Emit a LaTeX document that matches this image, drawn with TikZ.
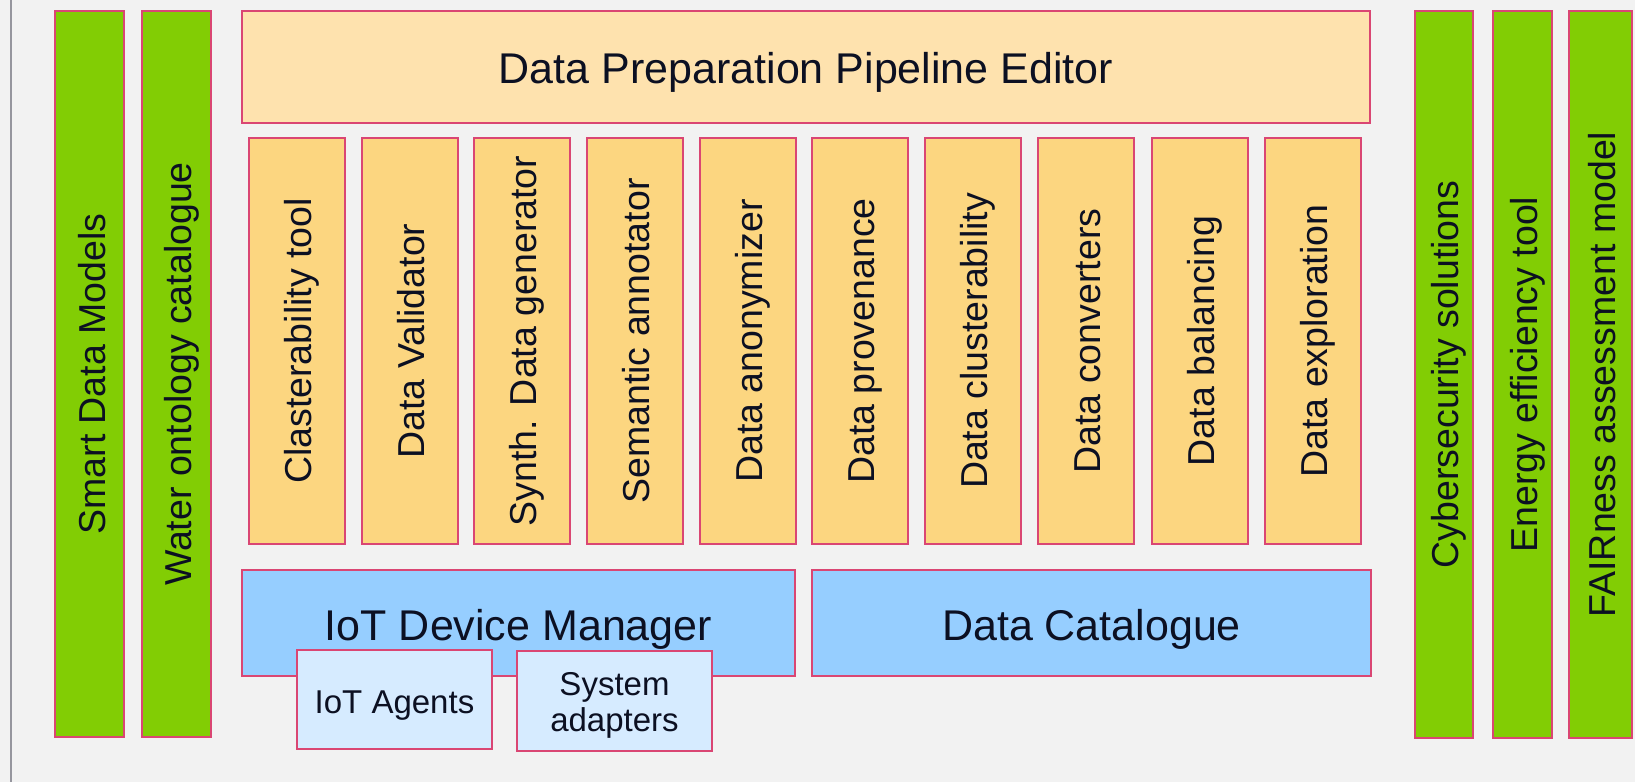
\documentclass[tikz,border=0pt]{standalone}
\usepackage{fontspec}
\setmainfont{Liberation Sans}
\definecolor{bgc}{RGB}{242,242,242}
\definecolor{edgec}{RGB}{218,70,115}
\definecolor{greenc}{RGB}{130,205,4}
\definecolor{editorc}{RGB}{254,226,174}
\definecolor{orangec}{RGB}{252,214,128}
\definecolor{bluec}{RGB}{150,206,255}
\definecolor{lbluec}{RGB}{214,235,255}
\definecolor{textc}{RGB}{12,16,34}
\definecolor{linec}{RGB}{150,150,158}
\newcommand{\vlab}[2]{\rotatebox{90}{\raisebox{-#1pt}[0pt][0pt]{#2}}}
\newcommand{\hlab}[2]{\raisebox{-#1pt}[0pt][0pt]{#2}}
\tikzset{
  box/.style={draw=edgec, line width=1.3pt, inner sep=0pt, text=textc, align=center},
  gbox/.style={box, fill=greenc, font=\fontsize{37.5}{40}\selectfont},
  obox/.style={box, fill=orangec, minimum width=96, minimum height=406, font=\fontsize{37.5}{40}\selectfont},
  ebox/.style={box, fill=editorc, font=\fontsize{43}{47}\selectfont},
  bbox/.style={box, fill=bluec, font=\fontsize{43}{47}\selectfont},
  lbox/.style={box, fill=lbluec, font=\fontsize{33}{36.7}\selectfont},
}
\begin{document}
\begin{tikzpicture}[x=1pt,y=-1pt]
\useasboundingbox (0,0) rectangle (1635,782);
\fill[bgc] (0,0) rectangle (1635,782);
\coordinate (lt) at (11,0);
\coordinate (lb) at (11,782);
\draw[linec, line width=2pt] (lt) -- (lb);

% left green columns
\node[gbox, minimum width=69, minimum height=726] (sdm) at (89.5,374) {\vlab{15.5}{Smart Data Models}};
\node[gbox, minimum width=69, minimum height=726] (woc) at (176.5,374) {\vlab{15}{Water ontology catalogue}};

% right green columns
\node[gbox, minimum width=58, minimum height=727] (cyb) at (1444,374.5) {\vlab{14.5}{Cybersecurity solutions}};
\node[gbox, minimum width=59, minimum height=727] (ene) at (1522.5,374.5) {\vlab{14.5}{Energy efficiency tool}};
\node[gbox, minimum width=63, minimum height=727] (fair) at (1600.5,374.5) {\vlab{15}{FAIRness assessment model}};

% editor
\node[ebox, minimum width=1128, minimum height=112] (editor) at (806,67) {\hlab{16.3}{Data Preparation Pipeline Editor}};

% tools
\foreach \l/\t/\n in {249/Clasterability tool/o1, 362/Data Validator/o2, 474/Synth. Data generator/o3,
  587/Semantic annotator/o4, 700/Data anonymizer/o5, 812/Data provenance/o6,
  925/Data clusterability/o7, 1038/Data converters/o8, 1152/Data balancing/o9, 1265/Data exploration/o10}
  \node[obox] (\n) at (\l+48,341) {\vlab{14.5}{\t}};

% bottom blue boxes
\node[bbox, minimum width=553, minimum height=106] (iotdm) at (518.5,623) {\hlab{17.5}{IoT Device Manager}};
\node[bbox, minimum width=559, minimum height=106] (dcat) at (1091.5,623) {\hlab{17.2}{Data Catalogue}};

% small boxes
\node[lbox, minimum width=195, minimum height=99] (agents) at (394.5,699.5) {\hlab{13.5}{IoT Agents}};
\node[lbox, minimum width=195, minimum height=100] (adapt) at (614.5,701) {\hlab{30.7}{\begin{tabular}[b]{@{}c@{}}System\\adapters\end{tabular}}};
\end{tikzpicture}
\end{document}
